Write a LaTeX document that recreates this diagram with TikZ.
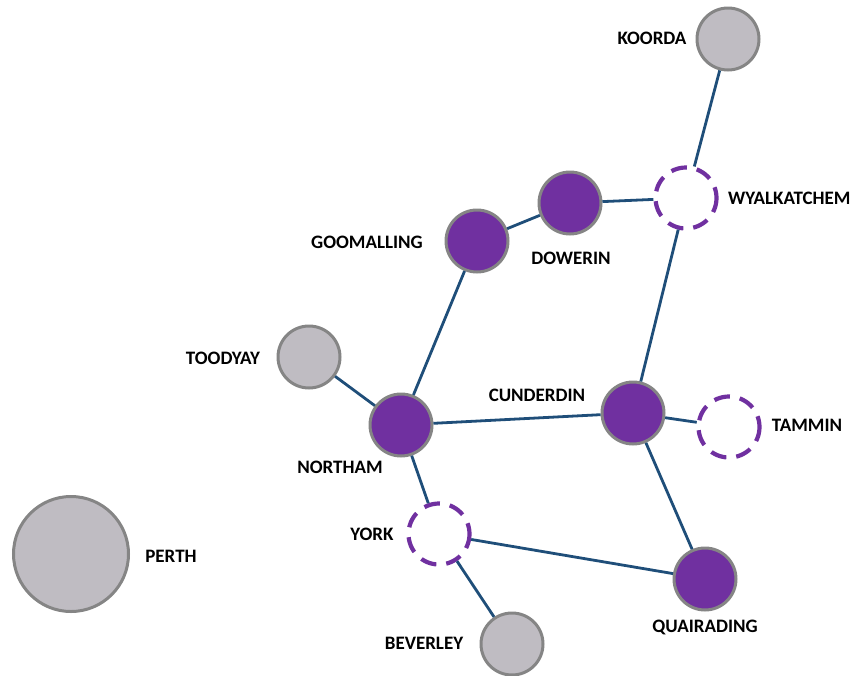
\documentclass[tikz,border=0pt]{standalone}
\usepackage{fontspec}
\setmainfont{Carlito}
\definecolor{townpurple}{HTML}{7030A0}
\definecolor{towngrey}{HTML}{BFBCC2}
\definecolor{rimgrey}{HTML}{858585}
\definecolor{linkblue}{HTML}{1F4E79}
\tikzset{
  purpletown/.style={circle, inner sep=0pt, minimum size=62pt, fill=townpurple, draw=rimgrey, line width=3pt},
  greytown/.style={circle, inner sep=0pt, minimum size=62pt, fill=towngrey, draw=rimgrey, line width=3pt},
  planned/.style={circle, inner sep=0pt, minimum size=61pt, fill=white, draw=townpurple, line width=4.2pt, dash pattern=on 16pt off 10pt, dash phase=5pt},
  townlabel/.style={font=\bfseries\fontsize{19}{21}\selectfont, inner sep=0pt, text=black},
  link/.style={draw=linkblue, line width=2.8pt}
}
\begin{document}
\begin{tikzpicture}[x=1pt,y=-1pt]
\useasboundingbox (0,0) rectangle (854,675);
% towns
\node[greytown] (koorda) at (728,39) {};
\node[planned] (wyal) at (686,198) {};
\node[purpletown] (dowerin) at (570,203) {};
\node[purpletown] (goom) at (477,241) {};
\node[greytown] (toodyay) at (309,357) {};
\node[purpletown] (northam) at (401,425) {};
\node[purpletown] (cunderdin) at (633,413) {};
\node[planned] (tammin) at (729,427) {};
\node[planned] (york) at (439,534) {};
\node[greytown, minimum size=115pt] (perth) at (71,554) {};
\node[purpletown] (quair) at (705,579) {};
\node[greytown] (beverley) at (512,644) {};
% links
\draw[link] (koorda) -- (wyal);
\draw[link] (wyal) -- (dowerin);
\draw[link] (dowerin) -- (goom);
\draw[link] (goom) -- (northam);
\draw[link] (toodyay) -- (northam);
\draw[link] (northam) -- (cunderdin);
\draw[link] (cunderdin) -- (wyal);
\draw[link] (cunderdin) -- (tammin);
\draw[link] (cunderdin) -- (quair);
\draw[link] (northam) -- (york);
\draw[link] (york) -- (quair);
\draw[link] (york) -- (beverley);
% labels
\node[townlabel] (lkoorda) at (652,38) {KOORDA};
\node[townlabel, anchor=west] (lwyal) at (728,198) {WYALKATCHEM};
\node[townlabel] (ldowerin) at (571,258) {DOWERIN};
\node[townlabel] (lgoom) at (367,242) {GOOMALLING};
\node[townlabel] (ltoodyay) at (223,358) {TOODYAY};
\node[townlabel] (lnortham) at (340,467) {NORTHAM};
\node[townlabel] (lcunderdin) at (537,395) {CUNDERDIN};
\node[townlabel] (ltammin) at (807,425) {TAMMIN};
\node[townlabel] (lyork) at (372,534) {YORK};
\node[townlabel] (lperth) at (171,556) {PERTH};
\node[townlabel] (lquair) at (705,627) {QUAIRADING};
\node[townlabel] (lbeverley) at (424,643) {BEVERLEY};
\end{tikzpicture}
\end{document}
